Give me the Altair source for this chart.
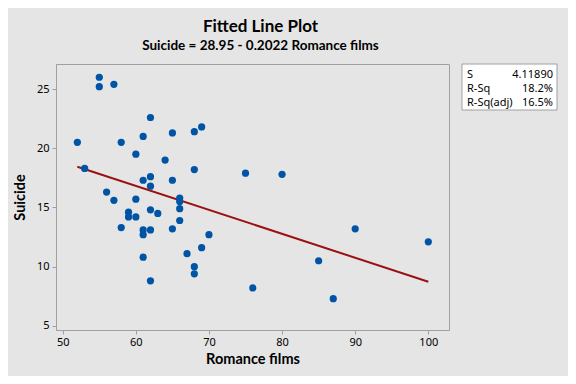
import altair as alt
import pandas as pd

# Data
romance = [52, 53, 55, 55, 57, 56, 57, 58, 58, 59, 59, 60, 60, 60, 61, 61, 61, 61, 61,
           62, 62, 62, 62, 62, 62, 63, 64, 65, 65, 65, 66, 66, 66, 66, 67, 68, 68, 68, 68,
           69, 69, 70, 75, 76, 80, 85, 87, 90, 100]
suicide = [20.5, 18.3, 26.0, 25.2, 25.4, 16.3, 15.6, 20.5, 13.3, 14.6, 14.2, 19.5, 15.7, 14.2,
           21.0, 17.3, 13.1, 12.7, 10.8, 22.6, 17.6, 16.8, 14.8, 13.1, 8.8, 14.5, 19.0, 21.3,
           17.3, 13.2, 15.8, 15.5, 14.9, 13.9, 11.1, 21.4, 18.2, 10.0, 9.4, 21.8, 11.6, 12.7,
           17.9, 8.2, 17.8, 10.5, 7.3, 13.2, 12.1]

intercept = 28.95
slope = -0.2022
fit_x = [52, 100]

stat_labels = ["S", "R-Sq", "R-Sq(adj)"]
stat_values = ["4.11890", "18.2%", "16.5%"]

x_ticks = [50, 60, 70, 80, 90, 100]
y_ticks = [5, 10, 15, 20, 25]

FONT = "Noto Sans"
TFONT = "Lato"
BLUE = "#0054A6"
RED = "#9B1111"
BORDER = "#a0a0a0"

pts = pd.DataFrame({"Romance films": romance, "Suicide": suicide})
fit = pd.DataFrame({"Romance films": fit_x})

xscale = alt.Scale(domain=[49.08, 102.83], nice=False, zero=False)
yscale = alt.Scale(domain=[4.65, 27.12], nice=False, zero=False)

xaxis = alt.Axis(values=x_ticks, title="Romance films", grid=False, tickSize=4,
                 labelFontSize=11, titleFontSize=14.5, titleFontWeight="bold",
                 labelColor="#000", titleColor="#000", domainColor=BORDER, tickColor=BORDER,
                 labelPadding=2, titlePadding=5, labelFont=FONT, titleFont=TFONT)
yaxis = alt.Axis(values=y_ticks, title="Suicide", grid=False, tickSize=4,
                 labelFontSize=11, titleFontSize=14.5, titleFontWeight="bold",
                 labelColor="#000", titleColor="#000", domainColor=BORDER, tickColor=BORDER,
                 labelPadding=3, titlePadding=9, labelFont=FONT, titleFont=TFONT)

points = alt.Chart(pts).mark_circle(size=52, opacity=1, color=BLUE).encode(
    x=alt.X("Romance films:Q", scale=xscale, axis=xaxis),
    y=alt.Y("Suicide:Q", scale=yscale, axis=yaxis),
)

line = alt.Chart(fit).transform_calculate(
    Suicide=f"{intercept} + ({slope}) * datum['Romance films']"
).mark_line(color=RED, strokeWidth=2).encode(
    x=alt.X("Romance films:Q", scale=xscale),
    y=alt.Y("Suicide:Q", scale=yscale),
)

box = alt.Chart(pd.DataFrame({"k": [0]})).mark_rect(
    fill="white", stroke=BORDER, strokeWidth=1, clip=False
).encode(x=alt.value(406), x2=alt.value(501), y=alt.value(0), y2=alt.value(46))

stat_layers = []
ys = [10.5, 25, 38.5]
for lab, val, yy in zip(stat_labels, stat_values, ys):
    stat_layers.append(
        alt.Chart(pd.DataFrame({"t": [lab]})).mark_text(
            align="left", baseline="middle", fontSize=11, font=FONT, color="#000", clip=False
        ).encode(x=alt.value(411), y=alt.value(yy), text="t:N")
    )
    stat_layers.append(
        alt.Chart(pd.DataFrame({"t": [val]})).mark_text(
            align="right", baseline="middle", fontSize=11, font=FONT, color="#000", clip=False
        ).encode(x=alt.value(497), y=alt.value(yy), text="t:N")
    )

chart = alt.layer(line, points, box, *stat_layers).properties(
    width=393,
    height=266,
    autosize=alt.AutoSizeParams(type="none"),
    padding={"left": 48, "top": 56, "right": 119, "bottom": 46},
    background="#e5e5e5",
    title=alt.TitleParams(
        text="Fitted Line Plot",
        subtitle="Suicide = 28.95 - 0.2022 Romance films",
        anchor="middle",
        dx=8,
        offset=10,
        fontSize=17,
        fontWeight="bold",
        font=TFONT,
        color="#000",
        subtitleFontSize=13.5,
        subtitleFontWeight="bold",
        subtitleFont=TFONT,
        subtitleColor="#000",
        subtitlePadding=3,
    ),
).configure_view(stroke=BORDER, strokeWidth=1)

chart.save("out.html", embed_options={"renderer": "svg", "actions": False})
